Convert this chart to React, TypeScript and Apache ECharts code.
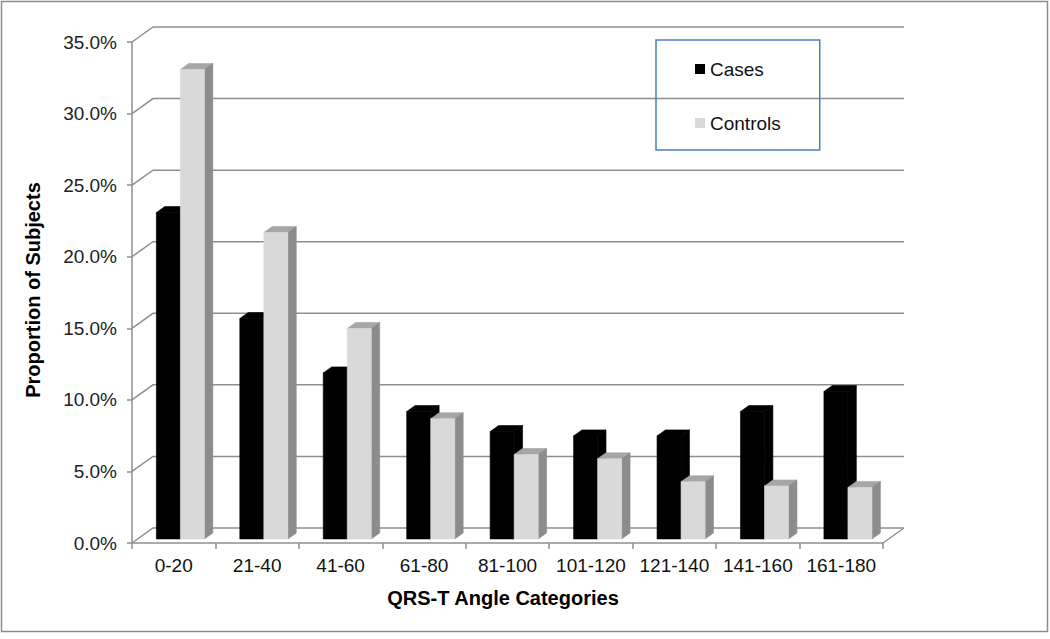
import React, { useEffect, useRef } from "react";
import * as echarts from "echarts";

const categories = ["0-20", "21-40", "41-60", "61-80", "81-100", "101-120", "121-140", "141-160", "161-180"];
const casesValues = [0.228, 0.154, 0.116, 0.089, 0.075, 0.072, 0.072, 0.089, 0.103];
const controlsValues = [0.328, 0.214, 0.147, 0.084, 0.059, 0.056, 0.040, 0.037, 0.036];
const yTicks = [0, 0.05, 0.1, 0.15, 0.2, 0.25, 0.3, 0.35];

const FONT = 'Arial, "Liberation Sans", sans-serif';
const DX = 21;
const DY = -15;
const F_FRONT = 0.27;
const F_DEPTH = 0.4;
const GRID_COLOR = "#8f8f8f";

function barRenderer(side: number, front: string, topC: string, sideC: string) {
  return (params: any, api: any) => {
    const i = api.value(0);
    const v = api.value(1);
    const base = api.coord([i, 0]);
    const top = api.coord([i, v]);
    const bw = api.size([1, 0])[0];
    const barW = bw * 0.288;
    const c = base[0] + 1;
    const x0 = side < 0 ? c - barW : c;
    const x1 = x0 + barW;
    const fx = DX * F_FRONT;
    const fy = DY * F_FRONT;
    const sx = DX * F_DEPTH;
    const sy = DY * F_DEPTH;
    const yb = base[1] + fy;
    const yt = top[1] + fy;
    const X0 = x0 + fx;
    const X1 = x1 + fx;
    return {
      type: "group",
      children: [
        {
          type: "polygon",
          shape: { points: [[X0, yt], [X0 + sx, yt + sy], [X1 + sx, yt + sy], [X1, yt]] },
          style: { fill: topC, stroke: topC, lineWidth: 0.6 },
        },
        {
          type: "polygon",
          shape: { points: [[X1, yt], [X1 + sx, yt + sy], [X1 + sx, yb + sy], [X1, yb]] },
          style: { fill: sideC, stroke: sideC, lineWidth: 0.6 },
        },
        {
          type: "rect",
          shape: { x: X0, y: yt, width: barW, height: yb - yt },
          style: { fill: front, stroke: front, lineWidth: 0.6 },
        },
      ],
    };
  };
}

function wallRenderer(params: any, api: any) {
  const v = api.value(1);
  const bw = api.size([1, 0])[0];
  const pl = api.coord([0, v]);
  const pr = api.coord([categories.length - 1, v]);
  const xl = pl[0] - bw / 2;
  const xr = pr[0] + bw / 2;
  const y = pl[1];
  const children: any[] = [
    {
      type: "polyline",
      shape: { points: [[xl, y], [xl + DX, y + DY], [xr + DX, y + DY]] },
      style: { stroke: GRID_COLOR, lineWidth: 1.5, fill: "none" },
    },
  ];
  if (v === 0) {
    children.push({
      type: "line",
      shape: { x1: xr, y1: y, x2: xr + DX, y2: y + DY },
      style: { stroke: GRID_COLOR, lineWidth: 1.5 },
    });
  }
  return { type: "group", children };
}

export default function App() {
  const ref = useRef<HTMLDivElement>(null);
  useEffect(() => {
    if (!ref.current) return;
    const chart = echarts.init(ref.current, null, { renderer: "svg" });
    chart.setOption({
      animation: false,
      backgroundColor: "#ffffff",
      textStyle: { fontFamily: FONT },
      grid: { left: 132, top: 42, width: 751, height: 501, containLabel: false },
      legend: {
        orient: "vertical",
        left: 656,
        top: 40,
        padding: [19, 39, 17, 39],
        itemWidth: 10,
        itemHeight: 10,
        itemGap: 34,
        borderColor: "#4a7ebb",
        borderWidth: 1.5,
        textStyle: { fontSize: 19, color: "#111", fontFamily: FONT, lineHeight: 20 },
        data: [
          { name: "Cases", icon: "rect" },
          { name: "Controls", icon: "rect" },
        ],
        selectedMode: false,
      },
      xAxis: {
        type: "category",
        data: categories,
        axisLine: { show: true, lineStyle: { color: GRID_COLOR, width: 1.5 } },
        axisTick: { show: true, length: 6, lineStyle: { color: GRID_COLOR, width: 1.5 } },
        axisLabel: { fontSize: 19, color: "#111", margin: 13, interval: 0, fontFamily: FONT },
        splitLine: { show: false },
      },
      yAxis: {
        type: "value",
        min: 0,
        max: 0.35,
        interval: 0.05,
        axisLine: { show: true, lineStyle: { color: GRID_COLOR, width: 1.5 } },
        axisTick: { show: true, length: 5, lineStyle: { color: GRID_COLOR, width: 1.5 } },
        axisLabel: {
          fontSize: 19,
          color: "#222",
          margin: 15,
          fontFamily: FONT,
          formatter: (v: number) => (v * 100).toFixed(1) + "%",
        },
        splitLine: { show: false },
      },
      graphic: [
        {
          type: "rect",
          shape: { x: 1.5, y: 1.5, width: 1046, height: 630 },
          style: { fill: "none", stroke: "#8c8c8c", lineWidth: 1.5 },
          silent: true,
        },
        {
          type: "text",
          x: 33,
          y: 290,
          rotation: Math.PI / 2,
          style: {
            text: "Proportion of Subjects",
            font: `bold 20px ${FONT}`,
            fill: "#000",
            textAlign: "center",
            textVerticalAlign: "middle",
          },
        },
        {
          type: "text",
          x: 503,
          y: 598,
          style: {
            text: "QRS-T Angle Categories",
            font: `bold 20px ${FONT}`,
            fill: "#000",
            textAlign: "center",
            textVerticalAlign: "middle",
          },
        },
      ],
      series: [
        {
          type: "custom",
          name: "wall",
          silent: true,
          clip: false,
          renderItem: wallRenderer,
          encode: { x: 0, y: 1 },
          data: yTicks.map((v) => [0, v]),
          z: 1,
        },
        {
          type: "custom",
          name: "Cases",
          clip: false,
          itemStyle: { color: "#000000" },
          renderItem: barRenderer(-1, "#000000", "#000000", "#000000"),
          encode: { x: 0, y: 1 },
          data: casesValues.map((v, i) => [i, v]),
          z: 2,
        },
        {
          type: "custom",
          name: "Controls",
          clip: false,
          itemStyle: { color: "#d9d9d9" },
          renderItem: barRenderer(1, "#d9d9d9", "#a6a6a6", "#8c8c8c"),
          encode: { x: 0, y: 1 },
          data: controlsValues.map((v, i) => [i, v]),
          z: 3,
        },
      ],
    });
    return () => chart.dispose();
  }, []);
  return (
    <div
      ref={ref}
      style={{ position: "absolute", left: 0, top: 0, width: 1050, height: 639, background: "#fff" }}
    />
  );
}
